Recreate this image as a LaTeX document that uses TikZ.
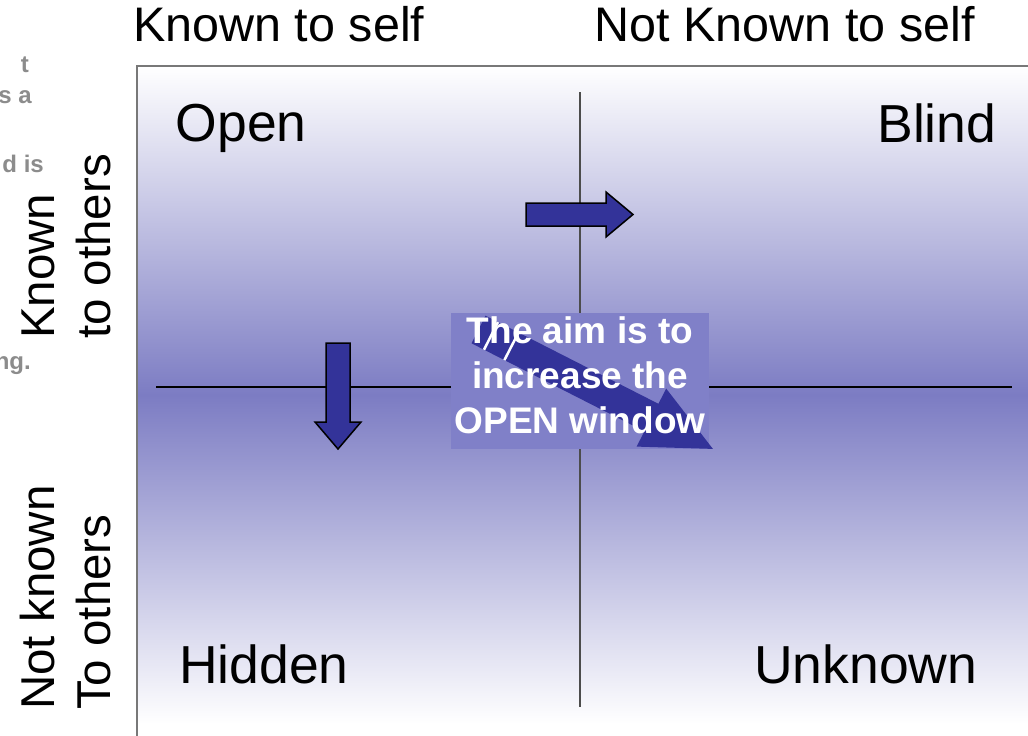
\documentclass[tikz,border=0pt]{standalone}
\usepackage{fontspec}
\setmainfont{Liberation Sans}
\definecolor{midviolet}{RGB}{124,124,195}
\definecolor{boxviolet}{RGB}{128,128,200}
\definecolor{arrowblue}{RGB}{51,51,153}
\definecolor{fadedgrey}{RGB}{140,140,140}
\definecolor{frameline}{RGB}{120,120,120}
\begin{document}
\begin{tikzpicture}[x=1pt,y=-1pt,
  axislabel/.style={font=\fontsize{48.5}{58}\selectfont, inner sep=0pt},
  sidelabel/.style={font=\fontsize{47.5}{57}\selectfont, inner sep=0pt, rotate=90, anchor=base west},
  quadlabel/.style={font=\fontsize{53.5}{64}\selectfont, inner sep=0pt},
  ghost/.style={font=\bfseries\fontsize{24}{28}\selectfont, text=fadedgrey, inner sep=0pt, anchor=base east},
  blockarrow/.style={fill=arrowblue, draw=black, line width=1.5pt, line join=miter},
  divider/.style={line width=1.3pt},
  aimline/.style={font=\bfseries\fontsize{37}{44}\selectfont, text=white, inner sep=0pt, anchor=base},
]
% page
\fill[white] (0,0) rectangle (1028,736);
\useasboundingbox (0,0) rectangle (1028,736);

% shaded window panel (white -> violet -> white)
\shade[top color=white, bottom color=midviolet] (137,66) rectangle (1040,395);
\shade[top color=midviolet, bottom color=white] (137,395) rectangle (1040,724);
\draw[frameline, line width=1.3pt] (137,760) -- (137,66) -- (1040,66);

% faded words running off the left edge
\node[ghost] (g1) at (29,72) {t};
\node[ghost] (g2) at (32,103) {s a};
\node[ghost] (g3) at (44,172) {d is};
\node[ghost] (g4) at (31,369) {ng.};

% column headings
\node[axislabel, anchor=base west] (selfknown) at (133,41) {Known to self};
\node[axislabel, anchor=base west] (selfunknown) at (594.5,41) {Not Known to self};

% row headings
\node[sidelabel] (othersA1) at (54,339) {Known};
\node[sidelabel] (othersA2) at (110,339) {to others};
\node[sidelabel] (othersB1) at (54,710) {Not known};
\node[sidelabel] (othersB2) at (110,710) {To others};

% quadrant dividers
\coordinate (vtop) at (580,92);
\coordinate (vbot) at (580,707);
\coordinate (hleft) at (156,387);
\coordinate (hright) at (1012,387);
\draw[divider, black!70] (vtop) -- (vbot);
\draw[divider] (hleft) -- (hright);

% quadrant names
\node[quadlabel, anchor=base west] (open) at (175.5,141) {Open};
\node[quadlabel, anchor=base east] (blind) at (996.5,142) {Blind};
\node[quadlabel, anchor=base west] (hidden) at (179,683) {Hidden};
\node[quadlabel, anchor=base west] (unknown) at (754,683) {Unknown};

% block arrow to the right
\draw[blockarrow] (526,203) -- (606,203) -- (606,192) -- (633,214.5)
  -- (606,237) -- (606,226) -- (526,226) -- cycle;
% block arrow downward
\draw[blockarrow] (326,343) -- (350,343) -- (350,422) -- (361,422) -- (338,449)
  -- (315,422) -- (326,422) -- cycle;

% central message box with diagonal arrow
\node[fill=boxviolet, minimum width=258pt, minimum height=136pt, inner sep=0pt] (aim) at (580,381) {};
\fill[arrowblue] (485.5,315.7) -- (658.4,403.8) -- (666.2,388.6) -- (712.9,448.9)
  -- (636.6,446.6) -- (644.4,431.4) -- (471.5,343.3) -- cycle;
\draw[white, line width=2.5pt] (484.0,349.7) -- (498.0,322.1);
\draw[white, line width=2.5pt] (504.4,360.1) -- (518.5,332.5);
\node[aimline] (aim1) at (580,343) {The aim is to};
\node[aimline] (aim2) at (580,388) {increase the};
\node[aimline] (aim3) at (580,433) {OPEN window};
\end{tikzpicture}
\end{document}
